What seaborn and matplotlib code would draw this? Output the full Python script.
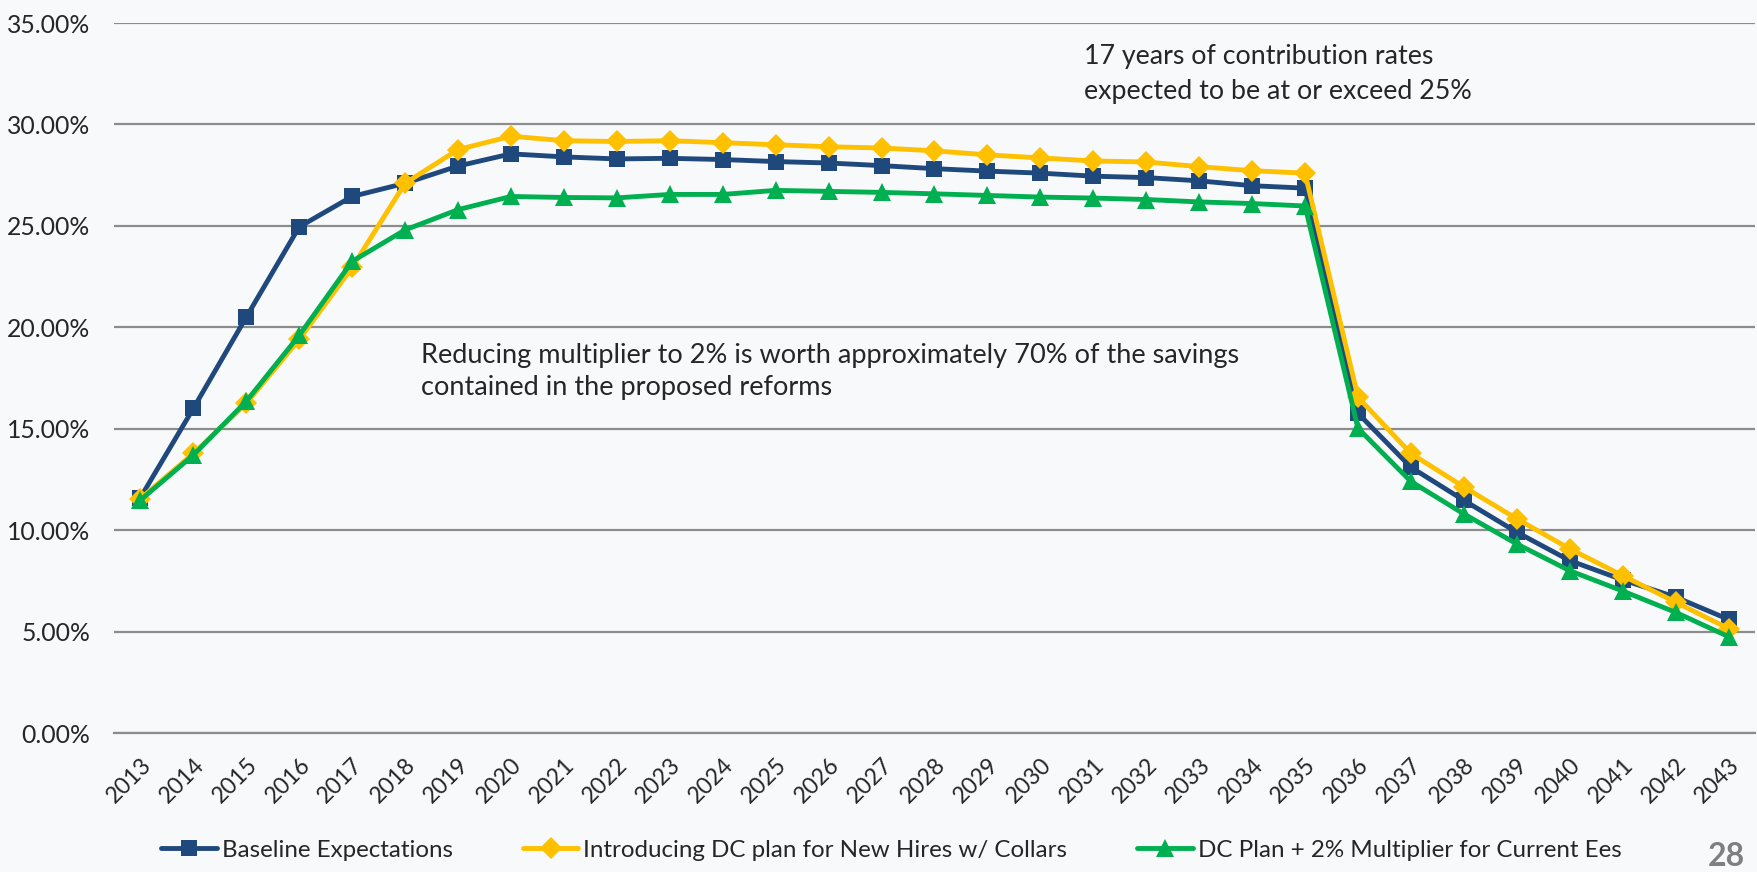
import matplotlib
matplotlib.use("Agg")
import matplotlib.pyplot as plt
import numpy as np
import pandas as pd
import seaborn as sns
from matplotlib.ticker import FixedLocator, MultipleLocator, PercentFormatter

# Data (contribution rate, % of payroll)
YEARS = list(range(2013, 2044))

BASELINE = [11.6, 16.0, 20.5, 24.95, 26.45, 27.1, 27.95, 28.55, 28.4, 28.3,
            28.33, 28.27, 28.17, 28.1, 27.97, 27.82, 27.7, 27.6, 27.45, 27.38,
            27.22, 26.98, 26.86, 15.76, 13.1, 11.47, 9.9, 8.5, 7.55, 6.7, 5.6]

DC_NEW_HIRES = [11.55, 13.78, 16.25, 19.4, 22.95, 27.1, 28.76, 29.42, 29.2, 29.16,
                29.2, 29.1, 29.0, 28.9, 28.84, 28.7, 28.5, 28.35, 28.2, 28.15,
                27.92, 27.72, 27.6, 16.55, 13.78, 12.13, 10.56, 9.08, 7.76, 6.45, 5.15]

DC_PLUS_MULT = [11.48, 13.7, 16.35, 19.6, 23.25, 24.8, 25.8, 26.45, 26.4, 26.38,
                26.55, 26.55, 26.75, 26.7, 26.65, 26.58, 26.5, 26.42, 26.37, 26.3,
                26.18, 26.1, 25.98, 15.02, 12.4, 10.8, 9.32, 8.0, 7.0, 5.95, 4.75]

SERIES_NAMES = [
    "Baseline Expectations",
    "Introducing DC plan for New Hires w/ Collars",
    "DC Plan + 2% Multiplier for Current Ees",
]
COLORS = ["#1F497D", "#FFC000", "#00B050"]
MARKERS = ["s", "D", "^"]
MARKER_SIZES = [11, 11, 13]

NOTE_TOP = "17 years of contribution rates\nexpected to be at or exceed 25%"
NOTE_MID = ("Reducing multiplier to 2% is worth approximately 70% of the savings\n"
            "contained in the proposed reforms")
PAGE_NO = "28"

BG = "#F8F9FB"
GRID = "#8C8C8C"


def main():
    sns.set_style("white")
    plt.rcParams["font.family"] = ["Lato", "DejaVu Sans"]

    fig = plt.figure(figsize=(17.58, 8.72), dpi=100, facecolor=BG)
    ax = fig.add_axes([0.0648, 0.1594, 0.9335, 0.8142])
    ax.set_facecolor(BG)

    values = [BASELINE, DC_NEW_HIRES, DC_PLUS_MULT]
    for name, vals, color, marker, ms in zip(SERIES_NAMES, values, COLORS, MARKERS, MARKER_SIZES):
        df = pd.DataFrame({"year": YEARS, "rate": vals})
        sns.lineplot(
            data=df, x="year", y="rate", ax=ax, color=color, linewidth=3.5,
            marker=marker, markersize=ms, markeredgewidth=0, label=name,
        )

    # y axis: 0-35% with horizontal gridlines
    ax.set_ylim(0, 35)
    ax.yaxis.set_major_locator(MultipleLocator(5))
    ax.yaxis.set_major_formatter(PercentFormatter(xmax=100, decimals=2))
    ax.grid(axis="y", color=GRID, linewidth=1.6, zorder=0)
    ax.set_axisbelow(True)

    # x axis: Excel style categories with ticks between years
    ax.set_xlim(YEARS[0] - 0.5, YEARS[-1] + 0.5)
    ax.set_xticks(YEARS)
    ax.set_xticklabels([str(y) for y in YEARS], rotation=45, ha="right",
                       rotation_mode="anchor")
    ax.xaxis.set_minor_locator(FixedLocator(np.arange(YEARS[0] - 0.5, YEARS[-1] + 1, 1.0)))
    ax.tick_params(axis="x", which="major", length=0, pad=15, labelsize=16.6)
    ax.tick_params(axis="x", which="minor", length=5, width=1.6, color=GRID, direction="out")
    ax.tick_params(axis="y", length=0, pad=17, labelsize=17.8)

    for side in ["top", "right", "left"]:
        ax.spines[side].set_visible(False)
    ax.spines["bottom"].set_color(GRID)
    ax.spines["bottom"].set_linewidth(1.6)

    ax.set_xlabel("")
    ax.set_ylabel("")

    # annotations
    ax.text(0.591, 0.9275, NOTE_TOP, transform=ax.transAxes, fontsize=19.3,
            va="center", ha="left", linespacing=1.5)
    ax.text(0.1874, 0.509, NOTE_MID, transform=ax.transAxes, fontsize=19.5,
            va="center", ha="left", linespacing=1.35)

    # legend along the bottom
    handles, labels = ax.get_legend_handles_labels()
    ax.get_legend().remove()
    fig.legend(handles, labels, loc="center", bbox_to_anchor=(0.507, 0.025), ncol=3,
               frameon=False, fontsize=17.4, handlelength=2.3, handletextpad=0.2,
               columnspacing=2.9)

    fig.text(0.9926, 0.018, PAGE_NO, ha="right", va="center", fontsize=23,
             fontweight="bold", color="#7F7F7F")

    fig.savefig("out.png", dpi=100, facecolor=BG)
    plt.close(fig)


if __name__ == "__main__":
    main()
